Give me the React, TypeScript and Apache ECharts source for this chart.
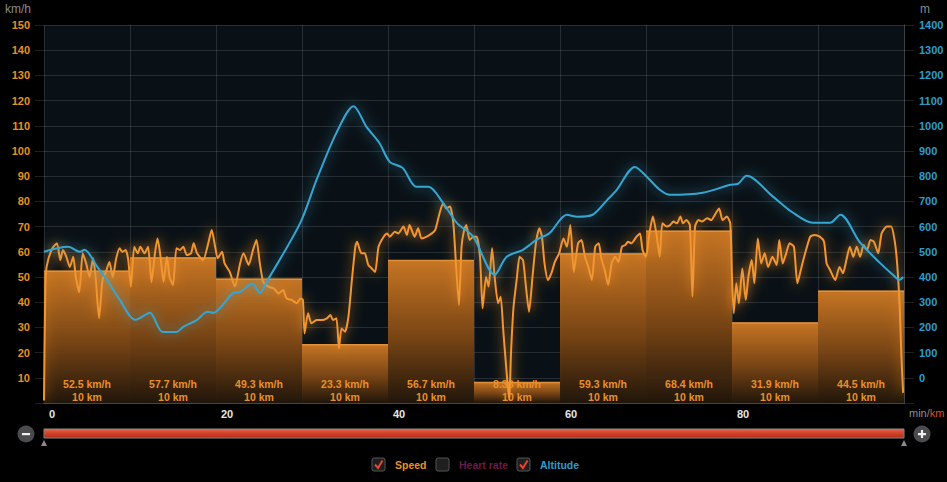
import React, { useEffect, useRef } from 'react';
import * as echarts from 'echarts';

const segmentSpeeds = [52.5, 57.7, 49.3, 23.3, 56.7, 8.36, 59.3, 68.4, 31.9, 44.5];
const segmentLengths = [10, 10, 10, 10, 10, 10, 10, 10, 10, 10];
const xTickLabels = [0, 20, 40, 60, 80];

const speedPoints: [number, number][] = [
  [0, 1], [0.15, 45], [0.3, 54], [0.9, 61], [1.5, 63.4], [1.9, 56.7], [2.2, 60.7], [2.6, 58], [3, 54], [3.4, 58],
  [3.7, 50], [4.1, 44], [4.5, 59.4], [4.9, 55.4], [5.3, 50], [5.7, 57.4], [6.0, 50], [6.4, 33.6], [6.8, 48.8], [7.2, 52],
  [7.6, 56], [8.0, 50], [8.4, 57.4], [8.8, 61.4], [9.1, 60], [9.5, 60.7], [9.8, 56.7], [10.1, 46.2], [10.5, 62], [10.9, 59.4],
  [11.2, 62], [11.7, 59.4], [12.1, 62], [12.5, 48], [12.9, 59.4], [13.2, 65.3], [13.5, 59.4], [13.9, 48], [14.3, 58], [14.6, 50],
  [15.0, 46.8], [15.4, 61.4], [15.8, 60.7], [16.2, 62], [16.6, 58.7], [17.1, 59.4], [17.4, 63.4], [17.8, 59.4], [18.5, 56.7], [19.1, 63.4],
  [19.5, 68.7], [19.9, 62], [20.2, 57.4], [20.7, 60], [21.0, 55.4], [21.6, 52], [22.2, 46.2], [22.8, 55.4], [23.2, 59.4], [23.8, 54.8],
  [24.3, 60.7], [24.7, 64.7], [25.1, 55.4], [25.5, 48], [26.1, 46.2], [26.7, 45.5], [27.3, 43.5], [27.8, 44.8], [28.2, 41.5], [28.8, 40.9],
  [29.4, 39.6], [29.8, 41.5], [30.1, 40.9], [30.3, 27.6], [30.7, 35.6], [31.1, 31.6], [31.7, 32.9], [32.3, 32.9], [32.9, 33.6], [33.3, 34.9],
  [33.6, 32.9], [34.0, 33.6], [34.3, 21.7], [34.6, 29.6], [35.0, 28.3], [35.4, 34.3], [35.8, 48.8], [36.2, 62], [36.4, 64], [36.9, 59.4],
  [37.3, 59.4], [37.7, 54.8], [38.1, 53.4], [38.5, 52], [38.9, 62], [39.5, 66], [39.9, 67.3], [40.2, 66], [40.8, 68], [41.2, 67.3],
  [41.8, 70], [42.2, 66.7], [42.5, 70.6], [43.1, 66], [43.5, 69.3], [43.9, 65.3], [44.5, 66], [45.1, 67.3], [45.5, 68.7], [46.0, 75.3],
  [46.4, 79.2], [46.8, 77.2], [47.2, 78], [47.6, 71.3], [47.9, 55.4], [48.25, 38.9], [48.55, 62], [48.85, 68.7], [49.1, 70.6], [49.5, 64.7],
  [49.9, 66], [50.3, 66], [50.7, 58], [51.0, 37.6], [51.4, 50], [51.7, 46.2], [52.1, 61.4], [52.4, 50], [52.8, 39.6], [53.1, 42.2],
  [53.4, 29], [53.8, 11.8], [54.1, 1.2], [54.3, 19.7], [54.6, 38.2], [55.0, 50], [55.3, 58], [55.7, 56.7], [56.0, 47.5], [56.4, 36.2],
  [56.8, 50], [57.2, 63.4], [57.6, 69.3], [57.9, 66], [58.2, 55.4], [58.6, 48.8], [59.0, 51.5], [59.4, 56], [59.9, 59.4], [60.4, 65.3],
  [60.8, 62], [61.2, 70.6], [61.6, 52], [62.1, 63.4], [62.5, 64.7], [62.9, 58], [63.3, 54], [63.7, 48.8], [64.1, 62], [64.5, 63.4],
  [64.8, 57.4], [65.2, 52.8], [65.6, 46.8], [66.0, 55.4], [66.4, 58], [66.8, 56], [67.2, 62], [67.6, 62.7], [67.9, 64], [68.3, 63.4],
  [68.9, 66], [69.3, 67.3], [69.6, 60.7], [70.0, 58], [70.4, 67.3], [70.8, 74], [71.2, 67.3], [71.6, 58], [71.9, 71.3], [72.4, 70],
  [72.8, 70.6], [73.2, 72], [73.6, 71.3], [74.0, 74], [74.3, 71.3], [74.7, 72.6], [75.1, 70.6], [75.4, 42.2], [75.7, 70], [76.1, 72.6],
  [76.5, 72], [77.1, 73.3], [77.6, 72.6], [78.0, 74.6], [78.5, 77.2], [78.9, 72.6], [79.4, 74], [79.8, 71.3], [80.0, 50], [80.2, 35.6],
  [80.5, 47.5], [80.8, 39.6], [81.2, 53.4], [81.6, 40.9], [81.9, 50], [82.3, 56.7], [82.6, 47.5], [83.0, 65.3], [83.4, 55.4], [83.8, 59.4],
  [84.2, 54], [84.7, 58], [85.2, 54.8], [85.5, 64.7], [85.9, 55.4], [86.3, 59.4], [86.7, 63.4], [87.2, 62], [87.6, 47.5], [88.0, 52.8],
  [88.5, 59.4], [89.1, 66], [89.6, 66.7], [90.2, 66], [90.7, 64], [91.0, 55.4], [91.4, 52.8], [92.0, 48.8], [92.5, 54], [92.9, 51.5],
  [93.3, 56.7], [93.7, 62], [94.1, 58], [94.5, 62], [94.9, 58], [95.3, 62.7], [95.7, 60.7], [96.1, 64.7], [96.5, 64], [97.0, 59.4],
  [97.4, 67.3], [98.0, 70], [98.5, 70], [98.9, 64.7], [99.2, 55.4], [99.5, 38.2], [99.7, 18.4], [99.9, 4]
];

const altitudePoints: [number, number][] = [
  [0, 500], [2.8, 520], [4.2, 500], [4.7, 508], [6.2, 440], [7.3, 389], [8.8, 310], [10.6, 230], [11.2, 238], [12.3, 258],
  [13.8, 182], [15.4, 182], [16.2, 202], [17.8, 230], [19, 262], [19.7, 258], [20.7, 286], [22, 337], [22.8, 341], [24.2, 373],
  [25.1, 337], [25.9, 381], [29.8, 615], [31.7, 786], [34, 972], [36, 1078], [37.5, 996], [39, 932], [40.2, 857], [41.7, 833],
  [43.3, 758], [44.7, 758], [46.4, 694], [48, 615], [49.9, 560], [52.4, 409], [53.8, 480], [55.7, 508], [57.3, 548], [58.8, 575],
  [60.8, 647], [62, 639], [63.8, 647], [65.5, 706], [66.6, 746], [68.7, 837], [70.2, 794], [71.6, 746], [72.8, 726], [76.6, 734],
  [79.8, 766], [80.7, 770], [81.7, 802], [84.8, 718], [87.1, 655], [89.4, 615], [91.4, 615], [92.6, 647], [94.9, 536], [97.2, 456],
  [98.7, 409], [99.5, 389], [99.9, 400]
];

const legendItems = [
  { name: 'Speed', checked: true, color: '#e8901e' },
  { name: 'Heart rate', checked: false, color: '#6b1a48' },
  { name: 'Altitude', checked: true, color: '#2c9ccc' }
];

const FONT = "'Liberation Sans', Arial, sans-serif";

let stripesRegistered = false;
function registerStripes() {
  if (stripesRegistered) return;
  let d = '';
  for (let x = 1; x < 860; x += 2) d += `M${x} 0 V9 `;
  echarts.graphic.registerShape('sliderStripes', echarts.graphic.extendPath(d, {}) as any);
  stripesRegistered = true;
}

export default function App() {
  const ref = useRef<HTMLDivElement>(null);
  useEffect(() => {
    registerStripes();
    const chart = echarts.init(ref.current!, null, { renderer: 'svg' });
    let acc = 0;
    const segData = segmentSpeeds.map((v, i) => {
      const s = acc;
      acc += segmentLengths[i];
      return [s, acc, v, segmentLengths[i]];
    });

    const legendX = [372, 436, 517];
    const legendGraphics: any[] = [];
    legendItems.forEach((it, i) => {
      const x = legendX[i];
      legendGraphics.push({
        type: 'rect', shape: { x, y: 458, width: 13, height: 13, r: 2 },
        style: { fill: '#1e1f21', stroke: '#555', lineWidth: 1 }
      });
      if (it.checked) {
        legendGraphics.push({
          type: 'polyline', shape: { points: [[x + 3, 464.5], [x + 6, 468], [x + 10.5, 460.5]] },
          style: { stroke: '#e8452c', lineWidth: 2, fill: 'none' }
        });
      }
      legendGraphics.push({
        type: 'text', x: x + 23, y: 465,
        style: { text: it.name, fill: it.color, font: `bold 10.5px ${FONT}`, verticalAlign: 'middle' }
      });
    });

    const option: any = {
      animation: false,
      backgroundColor: '#000',
      grid: { left: 44, right: 43, top: 25, bottom: 79, show: true, backgroundColor: '#0a1116', borderWidth: 0 },
      xAxis: {
        type: 'value', min: 0, max: 100, interval: 10,
        axisLine: { show: true, lineStyle: { color: '#41474c', width: 1 } },
        axisTick: { show: false },
        splitLine: { show: true, lineStyle: { color: 'rgba(255,255,255,0.12)', width: 1 } },
        axisLabel: {
          formatter: (v: number) => (xTickLabels.includes(v) ? String(v) : ''),
          align: 'left', padding: [0, 0, 0, 5], margin: 5,
          color: '#e6e6e6', fontWeight: 'bold', fontSize: 11, fontFamily: FONT
        }
      },
      yAxis: [
        {
          type: 'value', min: 0, max: 150, interval: 10, position: 'left',
          axisLine: { show: false },
          axisTick: { show: true, length: 9, lineStyle: { color: 'rgba(255,255,255,0.12)' } },
          splitLine: { show: true, lineStyle: { color: 'rgba(255,255,255,0.12)', width: 1 } },
          axisLabel: {
            formatter: (v: number) => (v === 0 ? '' : String(v)), margin: 14,
            color: '#e8901e', fontWeight: 'bold', fontSize: 11, fontFamily: FONT
          }
        },
        {
          type: 'value', min: -100, max: 1400, interval: 100, position: 'right',
          axisLine: { show: true, lineStyle: { color: '#3a3f44', width: 1 } },
          axisTick: { show: true, length: 10, lineStyle: { color: 'rgba(255,255,255,0.12)' } },
          splitLine: { show: false },
          axisLabel: {
            formatter: (v: number) => (v < 0 ? '' : String(v)), margin: 15,
            color: '#2c9ccc', fontWeight: 'bold', fontSize: 11, fontFamily: FONT
          }
        }
      ],
      series: [
        {
          type: 'custom', name: 'Segments', z: 2,
          data: segData,
          encode: { x: [0, 1], y: 2 },
          renderItem: (params: any, api: any) => {
            const s = api.value(0), e = api.value(1), v = api.value(2), len = api.value(3);
            const tl = api.coord([s, v]);
            const br = api.coord([e, 0]);
            const w = br[0] - tl[0];
            const h = br[1] - tl[1];
            return {
              type: 'group',
              children: [
                {
                  type: 'rect', shape: { x: tl[0], y: tl[1], width: w, height: h },
                  style: {
                    fill: new echarts.graphic.LinearGradient(0, 0, 0, 1, [
                      { offset: 0, color: 'rgba(208,122,36,0.95)' },
                      { offset: 0.55, color: 'rgba(124,70,20,0.95)' },
                      { offset: 1, color: 'rgba(34,22,10,0.95)' }
                    ])
                  }
                },
                {
                  type: 'line', shape: { x1: tl[0], y1: tl[1] + 0.5, x2: br[0], y2: tl[1] + 0.5 },
                  style: { stroke: '#e0913a', lineWidth: 1.5 }
                },
                {
                  type: 'text', z2: 10,
                  style: {
                    text: `${v} km/h`, x: (tl[0] + br[0]) / 2, y: br[1] - 19,
                    align: 'center', verticalAlign: 'middle', fill: '#e8902a', font: `bold 10.5px ${FONT}`
                  }
                },
                {
                  type: 'text', z2: 10,
                  style: {
                    text: `${len} km`, x: (tl[0] + br[0]) / 2, y: br[1] - 6,
                    align: 'center', verticalAlign: 'middle', fill: '#e8902a', font: `bold 10.5px ${FONT}`
                  }
                }
              ]
            };
          }
        },
        {
          type: 'line', name: 'Speed', z: 4, yAxisIndex: 0,
          data: speedPoints, showSymbol: false, smooth: 0.2,
          lineStyle: { color: '#f09630', width: 2, shadowBlur: 12, shadowColor: 'rgba(240,140,40,0.95)' }
        },
        {
          type: 'line', name: 'Altitude', z: 5, yAxisIndex: 1,
          data: altitudePoints, showSymbol: false, smooth: 0.3,
          lineStyle: { color: '#36a6d2', width: 2, shadowBlur: 12, shadowColor: 'rgba(54,166,210,0.85)' }
        }
      ],
      graphic: [
        { type: 'text', x: 5, y: 9, style: { text: 'km/h', fill: '#8a8a8a', font: `12px ${FONT}`, verticalAlign: 'middle' } },
        { type: 'text', x: 920, y: 9, style: { text: 'm', fill: '#8a8a8a', font: `12px ${FONT}`, verticalAlign: 'middle' } },
        {
          type: 'text', x: 909, y: 413,
          style: {
            text: '{a|min/}{b|km}', verticalAlign: 'middle',
            rich: {
              a: { fill: '#8f8f8f', font: `11px ${FONT}` },
              b: { fill: '#e8452c', font: `11px ${FONT}` }
            }
          }
        },
        {
          type: 'rect', shape: { x: 44, y: 429, width: 860, height: 9 },
          style: {
            fill: new echarts.graphic.LinearGradient(0, 0, 0, 1, [
              { offset: 0, color: '#f47a5c' },
              { offset: 0.5, color: '#e8482e' },
              { offset: 1, color: '#b93322' }
            ]),
            stroke: '#8a8a8a', lineWidth: 1
          }
        },
        {
          type: 'sliderStripes', x: 44, y: 429.5, scaleX: 1, scaleY: 0.9,
          style: { stroke: 'rgba(120,20,10,0.35)', lineWidth: 1, fill: 'none' }
        },
        { type: 'circle', shape: { cx: 26, cy: 434, r: 8.5 }, style: { fill: '#4a4b4d' } },
        { type: 'rect', shape: { x: 22, y: 433, width: 8, height: 2.2 }, style: { fill: '#f0f0f0' } },
        { type: 'circle', shape: { cx: 922, cy: 434, r: 8.5 }, style: { fill: '#4a4b4d' } },
        { type: 'rect', shape: { x: 918, y: 433, width: 8, height: 2.2 }, style: { fill: '#f0f0f0' } },
        { type: 'rect', shape: { x: 920.9, y: 430, width: 2.2, height: 8 }, style: { fill: '#f0f0f0' } },
        { type: 'polygon', shape: { points: [[41, 446], [44, 440], [47, 446]] }, style: { fill: '#8a8a8a' } },
        { type: 'polygon', shape: { points: [[901, 446], [904, 440], [907, 446]] }, style: { fill: '#8a8a8a' } },
        ...legendGraphics
      ]
    };
    chart.setOption(option);
    return () => chart.dispose();
  }, []);
  return <div ref={ref} style={{ position: 'fixed', left: 0, top: 0, width: 947, height: 482 }} />;
}
